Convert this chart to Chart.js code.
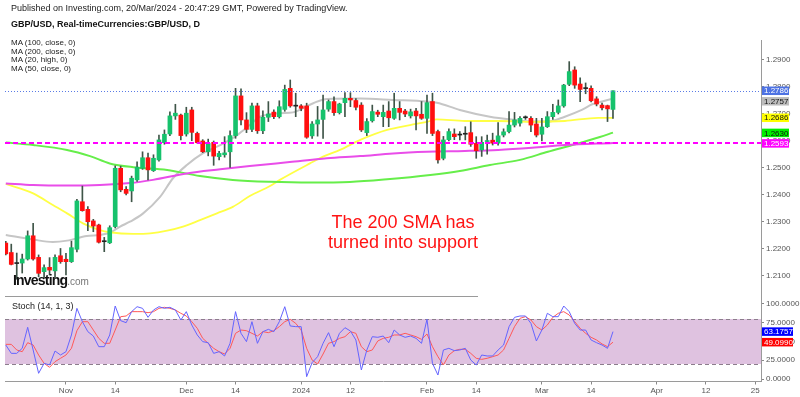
<!DOCTYPE html>
<html>
<head>
<meta charset="utf-8">
<script src="https://cdn.jsdelivr.net/npm/chart.js@4.4.1/dist/chart.umd.min.js"></script>
<style>
  html, body { margin: 0; padding: 0; background: #fff; }
  #wrap { position: relative; width: 800px; height: 397px; overflow: hidden; font-family: "Liberation Sans", Arial, sans-serif; }
  canvas { position: absolute; left: 0; }
  #price { top: 0; }
  #stoch { top: 297px; }
  .txt { position: absolute; white-space: nowrap; line-height: 1; }
</style>
</head>
<body>
<div id="wrap">
  <canvas id="price" width="800" height="297"></canvas>
  <canvas id="stoch" width="800" height="100"></canvas>

  <div class="txt" style="left:11px; top:4px; font-size:9px; color:#222;">Published on Investing.com, 20/Mar/2024 - 20:47:29 GMT, Powered by TradingView.</div>
  <div class="txt" style="left:11px; top:20px; font-size:9px; font-weight:bold; color:#111;">GBP/USD, Real-timeCurrencies:GBP/USD, D</div>
  <div class="txt" style="left:11px; top:39px; font-size:8px; color:#222; line-height:8.7px;">MA (100, close, 0)<br>MA (200, close, 0)<br>MA (20, high, 0)<br>MA (50, close, 0)</div>

  <div class="txt" style="left:13px; top:273px; font-size:14px; font-weight:bold; letter-spacing:-0.8px; color:#111;">Investing<span style="font-size:10px; font-weight:normal; letter-spacing:0; color:#777;">.com</span></div>

  <div class="txt" style="left:303px; top:212px; width:200px; text-align:center; font-size:18px; line-height:20px; color:#ff1414;">The 200 SMA has<br>turned into support</div>

  <div class="txt" style="left:12px; top:302px; font-size:9px; color:#222;">Stoch (14, 1, 3)</div>
</div>

<script>
// ---- candles: one per trading day, index 0 = 17 Oct 2023, index 111 = 20 Mar 2024 ----
const opens = [
  1.2222, 1.2187, 1.2147, 1.2148, 1.2163, 1.2249, 1.2169, 1.2116, 1.2132, 1.2119,
  1.2175, 1.2162, 1.2153, 1.2199, 1.2375, 1.2347, 1.2304, 1.2289, 1.2227, 1.2223,
  1.2283, 1.2499, 1.2421, 1.2415, 1.2456, 1.2499, 1.2538, 1.2490, 1.2530, 1.2594,
  1.2626, 1.2693, 1.2696, 1.2626, 1.2715, 1.2628, 1.2600, 1.2560, 1.2595, 1.2542,
  1.2549, 1.2560, 1.2620, 1.2767, 1.2678, 1.2643, 1.2730, 1.2638, 1.2688, 1.2707,
  1.2690, 1.2717, 1.2795, 1.2729, 1.2730, 1.2730, 1.2619, 1.2663, 1.2680, 1.2718,
  1.2746, 1.2705, 1.2742, 1.2758, 1.2750, 1.2733, 1.2631, 1.2675, 1.2707, 1.2690,
  1.2711, 1.2684, 1.2721, 1.2711, 1.2693, 1.2711, 1.2699, 1.2684, 1.2746, 1.2635,
  1.2536, 1.2605, 1.2626, 1.2622, 1.2625, 1.2631, 1.2591, 1.2567, 1.2598, 1.2603,
  1.2592, 1.2622, 1.2635, 1.2659, 1.2666, 1.2686, 1.2684, 1.2663, 1.2625, 1.2653,
  1.2690, 1.2706, 1.2730, 1.2810, 1.2863, 1.2811, 1.2794, 1.2795, 1.2756, 1.2733,
  1.2731, 1.2717
];
const highs = [
  1.2228, 1.2218, 1.2185, 1.2181, 1.2267, 1.2295, 1.2178, 1.2141, 1.2168, 1.2178,
  1.2202, 1.2184, 1.2229, 1.2384, 1.2433, 1.2357, 1.2310, 1.2292, 1.2243, 1.2286,
  1.2508, 1.2507, 1.2431, 1.2470, 1.2523, 1.2560, 1.2555, 1.2549, 1.2622, 1.2641,
  1.2708, 1.2736, 1.2700, 1.2725, 1.2725, 1.2633, 1.2605, 1.2607, 1.2600, 1.2562,
  1.2616, 1.2638, 1.2795, 1.2793, 1.2705, 1.2740, 1.2740, 1.2712, 1.2746, 1.2715,
  1.2749, 1.2807, 1.2826, 1.2777, 1.2735, 1.2740, 1.2672, 1.2728, 1.2770, 1.2752,
  1.2764, 1.2740, 1.2779, 1.2779, 1.2757, 1.2742, 1.2683, 1.2733, 1.2714, 1.2733,
  1.2746, 1.2777, 1.2746, 1.2717, 1.2718, 1.2721, 1.2746, 1.2770, 1.2777, 1.2640,
  1.2617, 1.2645, 1.2645, 1.2635, 1.2653, 1.2671, 1.2616, 1.2616, 1.2622, 1.2629,
  1.2668, 1.2645, 1.2709, 1.2706, 1.2690, 1.2693, 1.2690, 1.2684, 1.2684, 1.2709,
  1.2736, 1.2752, 1.2810, 1.2894, 1.2875, 1.2834, 1.2815, 1.2804, 1.2764, 1.2740,
  1.2733, 1.2786
];
const lows = [
  1.2178, 1.2141, 1.2088, 1.2111, 1.2159, 1.2159, 1.2097, 1.2093, 1.2104, 1.2095,
  1.2147, 1.2104, 1.2150, 1.2189, 1.2340, 1.2268, 1.2264, 1.2222, 1.2190, 1.2220,
  1.2278, 1.2412, 1.2400, 1.2375, 1.2450, 1.2495, 1.2456, 1.2487, 1.2525, 1.2588,
  1.2620, 1.2680, 1.2604, 1.2618, 1.2601, 1.2592, 1.2557, 1.2545, 1.2510, 1.2530,
  1.2540, 1.2502, 1.2610, 1.2660, 1.2631, 1.2635, 1.2628, 1.2627, 1.2672, 1.2683,
  1.2685, 1.2710, 1.2725, 1.2690, 1.2712, 1.2610, 1.2610, 1.2618, 1.2610, 1.2710,
  1.2695, 1.2700, 1.2690, 1.2727, 1.2715, 1.2635, 1.2620, 1.2670, 1.2690, 1.2653,
  1.2653, 1.2680, 1.2678, 1.2690, 1.2685, 1.2641, 1.2680, 1.2628, 1.2620, 1.2518,
  1.2530, 1.2600, 1.2605, 1.2604, 1.2604, 1.2580, 1.2536, 1.2543, 1.2551, 1.2585,
  1.2585, 1.2615, 1.2630, 1.2652, 1.2655, 1.2680, 1.2635, 1.2615, 1.2600, 1.2650,
  1.2680, 1.2700, 1.2725, 1.2805, 1.2795, 1.2746, 1.2775, 1.2745, 1.2730, 1.2715,
  1.2672, 1.2684
];
const closes = [
  1.2182, 1.2143, 1.2146, 1.2163, 1.2249, 1.2163, 1.2110, 1.2131, 1.2122, 1.2169,
  1.2153, 1.2153, 1.2205, 1.2378, 1.2342, 1.2301, 1.2285, 1.2225, 1.2228, 1.2279,
  1.2499, 1.2419, 1.2406, 1.2462, 1.2503, 1.2538, 1.2493, 1.2536, 1.2604, 1.2625,
  1.2693, 1.2703, 1.2620, 1.2703, 1.2632, 1.2594, 1.2560, 1.2591, 1.2544, 1.2554,
  1.2556, 1.2620, 1.2767, 1.2678, 1.2643, 1.2730, 1.2638, 1.2688, 1.2700, 1.2690,
  1.2727, 1.2791, 1.2730, 1.2730, 1.2721, 1.2614, 1.2663, 1.2678, 1.2715, 1.2746,
  1.2705, 1.2737, 1.2758, 1.2752, 1.2725, 1.2641, 1.2672, 1.2709, 1.2699, 1.2706,
  1.2686, 1.2721, 1.2706, 1.2700, 1.2708, 1.2693, 1.2684, 1.2742, 1.2628, 1.2530,
  1.2604, 1.2635, 1.2616, 1.2623, 1.2626, 1.2588, 1.2564, 1.2595, 1.2600, 1.2592,
  1.2619, 1.2634, 1.2659, 1.2678, 1.2684, 1.2687, 1.2659, 1.2622, 1.2652, 1.2690,
  1.2706, 1.2730, 1.2807, 1.2857, 1.2807, 1.2791, 1.2795, 1.2749, 1.2737, 1.2723,
  1.2719, 1.2786
];

// ---- moving averages at a few candle positions ----
const ma20Idx = [0, 5, 8.6, 11.2, 14.8, 17.2, 19, 20.9, 22.7, 25, 28.2, 30.6, 33.1, 36, 39.2, 42.3, 44.6, 46.5, 50.1, 52.5, 56.2, 58.7, 64.8, 70.8, 77, 78.8, 83, 88.5, 93.1, 96.2, 99.1, 102.2, 105.3, 107.2, 109, 111];
const ma20Val = [1.2252, 1.2235, 1.2226, 1.2231, 1.2248, 1.2252, 1.2260, 1.2283, 1.2301, 1.2330, 1.2393, 1.2463, 1.2511, 1.2554, 1.2585, 1.2622, 1.2659, 1.2690, 1.2703, 1.2706, 1.2740, 1.2756, 1.2757, 1.2752, 1.2746, 1.2742, 1.2715, 1.2690, 1.2678, 1.2672, 1.2672, 1.2690, 1.2715, 1.2736, 1.2746, 1.2757];

const ma50Idx = [0, 5, 8.6, 11.2, 14.1, 17.2, 19, 23.3, 26.4, 29.5, 32.4, 35.5, 38.6, 41.5, 44.6, 48.3, 50.1, 55.6, 58, 61.1, 64.8, 69.7, 73.9, 77, 78.8, 83.9, 90, 96.2, 102.2, 108.3, 111];
const ma50Val = [1.2441, 1.2406, 1.2363, 1.2332, 1.2295, 1.2270, 1.2262, 1.2256, 1.2258, 1.2268, 1.2283, 1.2307, 1.2332, 1.2356, 1.2396, 1.2433, 1.2456, 1.2517, 1.2542, 1.2567, 1.2604, 1.2641, 1.2659, 1.2671, 1.2680, 1.2674, 1.2674, 1.2671, 1.2674, 1.2686, 1.2686];

const ma100Idx = [0, 5, 11.2, 15.4, 19, 23.3, 29.5, 35.5, 41.5, 48.3, 55.6, 62.9, 69.7, 77.6, 83, 88.5, 94, 99.1, 104.1, 108.6, 111];
const ma100Val = [1.2594, 1.2585, 1.2567, 1.2544, 1.2517, 1.2503, 1.2493, 1.2470, 1.2456, 1.2449, 1.2446, 1.2448, 1.2458, 1.2474, 1.2489, 1.2511, 1.2530, 1.2560, 1.2588, 1.2615, 1.2631];

const ma200Idx = [0, 5, 11.2, 17.2, 22.7, 26.9, 33.1, 39.2, 44.6, 51.9, 58.7, 64.8, 70.8, 77, 83.9, 90, 96.2, 102.2, 111];
const ma200Val = [1.2443, 1.2437, 1.2435, 1.2437, 1.2444, 1.2456, 1.2480, 1.2495, 1.2507, 1.2522, 1.2536, 1.2544, 1.2554, 1.2560, 1.2563, 1.2567, 1.2575, 1.2585, 1.2593];

// ---- stochastic (14, 1, 3): %K and %D per candle ----
const stochK = [
  45.3, 34.2, 34.2, 40.9, 68.9, 38.7, 7.6, 20.9, 18.7, 37.3,
  32.0, 36.4, 58.7, 94.2, 76.4, 63.1, 57.3, 43.1, 43.1, 58.7,
  97.3, 77.8, 75.1, 89.8, 96.4, 94.2, 82.2, 92.0, 96.4, 94.2,
  95.6, 92.0, 78.7, 89.8, 72.0, 58.7, 49.8, 48.4, 34.2, 36.4,
  30.7, 47.6, 89.8, 60.9, 49.8, 76.4, 47.6, 63.1, 66.2, 63.1,
  76.4, 96.4, 70.7, 69.8, 69.8, 3.1, 21.8, 29.8, 47.6, 61.8,
  43.1, 60.9, 68.4, 64.0, 52.0, 12.0, 38.7, 56.4, 55.6, 57.3,
  48.4, 65.3, 58.7, 55.6, 57.3, 54.2, 47.6, 79.6, 20.9, 5.3,
  38.7, 40.9, 37.8, 38.7, 40.9, 25.3, 18.7, 32.0, 30.7, 30.7,
  38.7, 45.3, 69.8, 82.2, 84.0, 84.0, 74.2, 50.7, 65.3, 87.6,
  83.1, 83.1, 97.3, 89.8, 74.2, 65.3, 65.3, 52.0, 48.4, 45.3,
  40.9, 63.18
];
const stochD = [
  46.2, 46.2, 38.7, 36.4, 48.4, 45.3, 32.0, 20.9, 15.6, 23.1,
  27.6, 32.0, 40.9, 64.4, 76.4, 76.4, 65.3, 54.2, 47.6, 47.6,
  65.3, 83.1, 84.0, 89.8, 89.8, 89.8, 88.4, 89.8, 94.2, 95.6,
  94.2, 92.0, 87.6, 84.0, 76.4, 67.6, 54.2, 47.6, 40.9, 36.4,
  33.3, 40.9, 60.9, 65.3, 64.4, 60.9, 57.3, 63.1, 61.8, 64.4,
  69.8, 76.4, 79.6, 74.2, 65.3, 40.9, 25.3, 20.0, 33.3, 47.6,
  49.8, 54.2, 56.4, 63.1, 60.9, 43.1, 36.4, 38.7, 50.7, 54.2,
  55.6, 58.7, 58.7, 60.9, 58.7, 56.4, 52.9, 60.0, 43.1, 29.8,
  18.7, 32.0, 37.8, 39.6, 39.6, 34.2, 27.6, 26.2, 27.6, 29.8,
  32.0, 38.7, 54.2, 69.8, 80.9, 83.1, 78.7, 69.8, 65.3, 72.0,
  82.2, 87.6, 89.8, 85.3, 76.4, 67.6, 60.9, 55.6, 52.0, 46.7,
  43.1, 49.10
];

// ---- axes ----
const xTickIdx = [11, 20, 33, 42, 54, 63, 77, 86, 98, 107, 119, 128, 137];
const xTickText = ['Nov', '14', 'Dec', '14', '2024', '12', 'Feb', '14', 'Mar', '14', 'Apr', '12', '25'];
const priceTicks = [1.21, 1.22, 1.23, 1.24, 1.25, 1.26, 1.27, 1.28, 1.29];
const stochTicks = [0, 25, 50, 75, 100];

// last values shown as tags on the price axis
const tagValues = [1.2786, 1.2757, 1.2686, 1.2630, 1.2593];
const tagBg = ['#4d72e3', '#bdbdbd', '#ffff00', '#00f000', '#ff00ff'];
const tagFg = ['#fff', '#111', '#111', '#111', '#fff'];
const stochTagValues = [63.1757, 49.0990];
const stochTagBg = ['#0000ff', '#ff0000'];

const lastPrice = 1.2786;
const supportLevel = 1.2593;

const X_MIN = -0.146, X_MAX = 138.06;
const FONT = '"Liberation Sans", Arial, sans-serif';
const UP = '#16c26c', DOWN = '#ff0f0f', DOJI = '#222', WICK = '#3f5548';

const pts = (idx, vals) => idx.map((x, i) => ({ x, y: vals[i] }));
const wickData = highs.map((h, i) => ({ x: i, y: [lows[i], h] }));
const bodyData = opens.map((o, i) => ({ x: i, y: [o, closes[i]] }));
const bodyColors = opens.map((o, i) => {
    const d = closes[i] - o;
    if (Math.abs(d) < 0.00015) return DOJI;
    return d > 0 ? UP : DOWN;
});

const maLine = (data, color, width) => ({
    type: 'line', data, borderColor: color, borderWidth: width,
    pointRadius: 0, cubicInterpolationMode: 'monotone', order: 5
});

function drawTag(ctx, x, y, text, bg, fg, w) {
    const h = 8.5;
    ctx.fillStyle = bg;
    ctx.fillRect(x, y - h / 2, w, h);
    ctx.fillStyle = fg;
    ctx.font = '8px ' + FONT;
    ctx.textBaseline = 'middle';
    ctx.textAlign = 'left';
    ctx.fillText(text, x + 2, y + 0.5);
}

const pricePlugin = {
    id: 'priceExtras',
    afterDatasetsDraw(chart) {
        const { ctx, chartArea: a, scales: { y } } = chart;
        ctx.save();
        // last price dotted line
        ctx.strokeStyle = '#5a7be6';
        ctx.lineWidth = 1;
        ctx.setLineDash([1, 2]);
        let py = Math.round(y.getPixelForValue(lastPrice)) + 0.5;
        ctx.beginPath(); ctx.moveTo(a.left, py); ctx.lineTo(a.right, py); ctx.stroke();
        // support dashed line
        ctx.strokeStyle = '#ff00ff';
        ctx.lineWidth = 2;
        ctx.setLineDash([5, 3]);
        py = Math.round(y.getPixelForValue(supportLevel));
        ctx.beginPath(); ctx.moveTo(a.left, py); ctx.lineTo(a.right, py); ctx.stroke();
        ctx.restore();
    },
    afterDraw(chart) {
        const { ctx, chartArea: a, scales: { y } } = chart;
        ctx.save();
        // pane separator
        ctx.strokeStyle = '#9a9a9a';
        ctx.lineWidth = 1;
        ctx.beginPath(); ctx.moveTo(5, 296.5); ctx.lineTo(478, 296.5); ctx.stroke();
        let prevBottom = -100;
        tagValues.forEach((v, i) => {
            let cy = y.getPixelForValue(v);
            if (cy - 4.25 < prevBottom + 2) cy = prevBottom + 2 + 4.25;
            prevBottom = cy + 4.25;
            drawTag(ctx, a.right + 1, cy, v.toFixed(4), tagBg[i], tagFg[i], 27);
        });
        ctx.restore();
    }
};

const stochPlugin = {
    id: 'stochExtras',
    beforeDatasetsDraw(chart) {
        const { ctx, chartArea: a, scales: { y } } = chart;
        const y80 = y.getPixelForValue(80), y20 = y.getPixelForValue(20);
        ctx.save();
        ctx.fillStyle = '#dfc2e0';
        ctx.fillRect(a.left, y80, a.right - a.left, y20 - y80);
        ctx.strokeStyle = '#8c7d8c';
        ctx.lineWidth = 1;
        ctx.setLineDash([4, 3]);
        [y80, y20].forEach(py => {
            py = Math.round(py) + 0.5;
            ctx.beginPath(); ctx.moveTo(a.left, py); ctx.lineTo(a.right, py); ctx.stroke();
        });
        ctx.restore();
    },
    afterDraw(chart) {
        const { ctx, chartArea: a, scales: { y } } = chart;
        ctx.save();
        stochTagValues.forEach((v, i) => {
            drawTag(ctx, a.right + 1, y.getPixelForValue(v), v.toFixed(4), stochTagBg[i], '#fff', 31);
        });
        ctx.restore();
    }
};

const axisY = (min, max, ticks) => ({
    position: 'right', min, max,
    afterBuildTicks: s => { s.ticks = ticks.map(value => ({ value })); },
    afterFit: s => { s.width = 39; s.paddingTop = 0; s.paddingBottom = 0; },
    ticks: { font: { size: 8, family: FONT }, color: '#555', padding: 2, callback: v => v.toFixed(4) },
    grid: { drawOnChartArea: false, tickLength: 3, color: '#888' },
    border: { color: '#9a9a9a' }
});

new Chart(document.getElementById('price'), {
    type: 'bar',
    data: {
        datasets: [
            maLine(pts(ma200Idx, ma200Val), '#e94de9', 2),
            maLine(pts(ma100Idx, ma100Val), '#66ee4a', 2),
            maLine(pts(ma50Idx, ma50Val), '#ffff44', 1.8),
            maLine(pts(ma20Idx, ma20Val), '#c6c6c6', 2),
            { data: wickData, backgroundColor: WICK, barThickness: 1, grouped: false, order: 2 },
            { data: bodyData, backgroundColor: bodyColors, barThickness: 4, minBarLength: 1, grouped: false, order: 1 }
        ]
    },
    options: {
        responsive: false,
        animation: false,
        layout: { padding: { left: 5, top: 40, right: 0, bottom: 0 } },
        plugins: { legend: { display: false }, tooltip: { enabled: false } },
        scales: {
            x: { type: 'linear', min: X_MIN, max: X_MAX, offset: false, display: false },
            y: axisY(1.202222, 1.297407, priceTicks)
        }
    },
    plugins: [pricePlugin]
});

new Chart(document.getElementById('stoch'), {
    type: 'line',
    data: {
        datasets: [
            { data: stochK.map((v, i) => ({ x: i, y: v })), borderColor: '#6464ff', borderWidth: 1, pointRadius: 0 },
            { data: stochD.map((v, i) => ({ x: i, y: v })), borderColor: '#ff5858', borderWidth: 1, pointRadius: 0 }
        ]
    },
    options: {
        responsive: false,
        animation: false,
        layout: { padding: { left: 5, top: 0, right: 0, bottom: 0 } },
        plugins: { legend: { display: false }, tooltip: { enabled: false } },
        scales: {
            x: {
                type: 'linear', min: X_MIN, max: X_MAX, offset: false,
                afterBuildTicks: s => { s.ticks = xTickIdx.map(value => ({ value })); },
                afterFit: s => { s.height = 15.5; s.paddingLeft = 0; s.paddingRight = 0; },
                ticks: {
                    autoSkip: false, maxRotation: 0, padding: 1,
                    font: { size: 8, family: FONT }, color: '#555',
                    callback: v => xTickText[xTickIdx.indexOf(v)]
                },
                grid: { drawOnChartArea: false, tickLength: 3, color: '#888' },
                border: { color: '#9a9a9a' }
            },
            y: axisY(-3.33, 109.33, stochTicks)
        }
    },
    plugins: [stochPlugin]
});
</script>
</body>
</html>
